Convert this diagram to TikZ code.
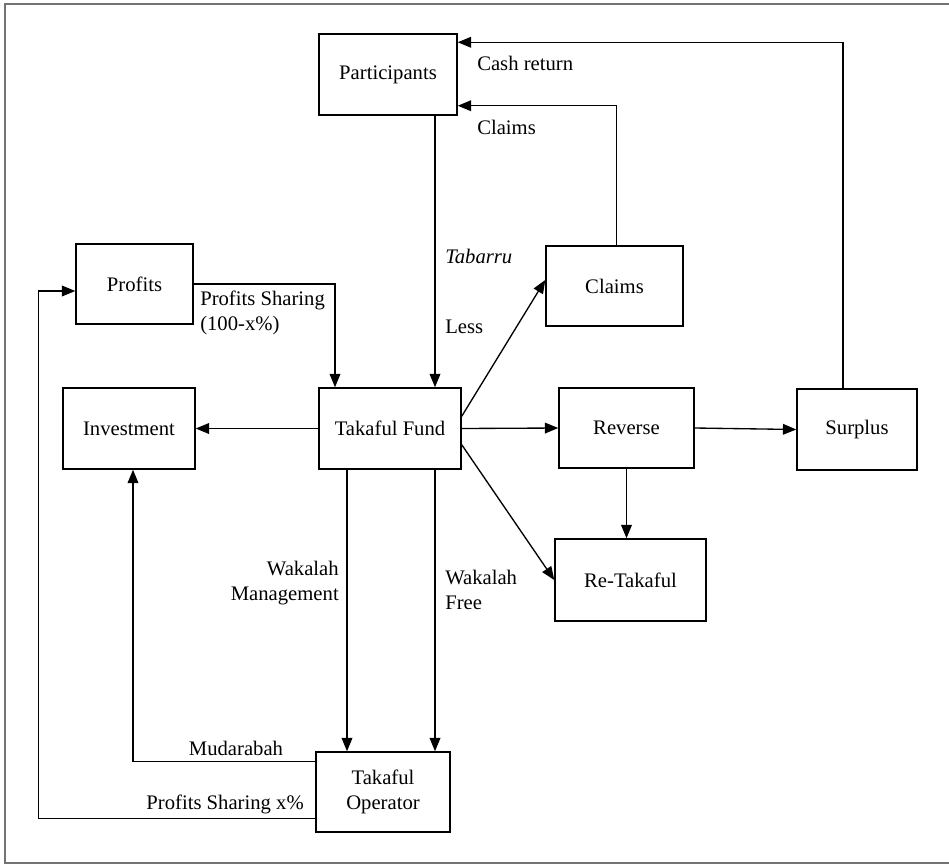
\documentclass[tikz,border=0pt]{standalone}
\usepackage{fontspec}
\setmainfont{Liberation Serif}
\usetikzlibrary{arrows.meta}

\tikzset{
  box/.style={draw, line width=1.1pt, inner sep=2pt, align=center},
  arr/.style={line width=1pt, -{Triangle[length=10pt,width=8pt]}},
  lbl/.style={inner sep=0pt, align=left}
}

\begin{document}
\begin{tikzpicture}[x=0.75pt, y=-0.75pt, font=\fontsize{15.5}{18.5}\selectfont]
\useasboundingbox (0,0) rectangle (949,864);
\clip (0,0) rectangle (949,864);
\draw [gray!90!black, line width=1pt] (5,4) rectangle (970,863);

% boxes
\node [box, minimum width=103.5pt, minimum height=60.75pt] (part) at (388,74.5) {Participants};
\node [box, minimum width=87.75pt, minimum height=60pt] (profits) at (134.5,284) {Profits};
\node [box, minimum width=99pt, minimum height=60.75pt] (invest) at (129,428.5) {Investment};
\node [box, minimum width=106.5pt, minimum height=60.75pt] (fund) at (390,428.5) {Takaful Fund};
\node [box, minimum width=102.75pt, minimum height=60pt] (claims) at (614.5,286) {Claims};
\node [box, minimum width=101.25pt, minimum height=60pt] (reverse) at (626.5,428) {Reverse};
\node [box, minimum width=90pt, minimum height=60.75pt] (surplus) at (857,429.5) {Surplus};
\node [box, minimum width=113.25pt, minimum height=61.5pt] (retak) at (630.5,580) {Re-Takaful};
\node [box, minimum width=100.5pt, minimum height=60pt] (oper) at (383,792) {Takaful\\Operator};

% top returns
\draw [arr] ([xshift=-10.5pt]surplus.north) |- ([yshift=-6.75pt]part.north east);
\node [lbl, anchor=west] (cashlbl) at (477,63) {Cash return};
\draw [arr] ([xshift=1.5pt]claims.north) |- ([yshift=7.5pt]part.south east);
\node [lbl, anchor=west] (claimlbl) at (477,127) {Claims};

% into the fund
\draw [arr] ([xshift=35.25pt]part.south) -- ([xshift=33.75pt]fund.north);
\node [lbl, anchor=west] (tablbl) at (445,256) {\textit{Tabarru}};
\node [lbl, anchor=west] (lesslbl) at (445,327) {Less};
\draw [arr] (profits.east) -| ([xshift=-41.25pt]fund.north);
\node [lbl, anchor=north west] (pshlbl) at (200,291) {Profits Sharing\\(100-x\%)};

% out of the fund
\draw [arr] (fund.west) -- (invest.east);
\draw [arr] ([yshift=-21.75pt]fund.north east) -- ([yshift=4.5pt]claims.west);
\draw [arr] (fund.east) -- (reverse.west);
\draw [arr] (reverse.east) -- (surplus.west);
\draw [arr] ([yshift=18.75pt]fund.south east) -- (retak.west);
\draw [arr] (reverse.south) -- (reverse.south |- retak.north);

% to the operator
\draw [arr] ([xshift=-32.25pt]fund.south) -- ([xshift=-32.25pt]fund.south |- oper.north);
\node [lbl, anchor=east, align=right] (wmlbl) at (339,583) {Wakalah\\Management};
\draw [arr] ([xshift=33.75pt]fund.south) -- ([xshift=33.75pt]fund.south |- oper.north);
\node [lbl, anchor=west] (wflbl) at (445,590) {Wakalah\\Free};

% back from the operator
\draw [arr] ([yshift=-7.5pt]oper.north west) -| ([xshift=3pt]invest.south);
\node [lbl] (mudlbl) at (236,748) {Mudarabah};
\draw [arr] ([yshift=10.5pt]oper.south west) -| ([xshift=-27.75pt,yshift=-5.25pt]profits.west) -- ([yshift=-5.25pt]profits.west);
\node [lbl, anchor=east] (pxlbl) at (304,804) {Profits Sharing x\%};
\end{tikzpicture}
\end{document}
